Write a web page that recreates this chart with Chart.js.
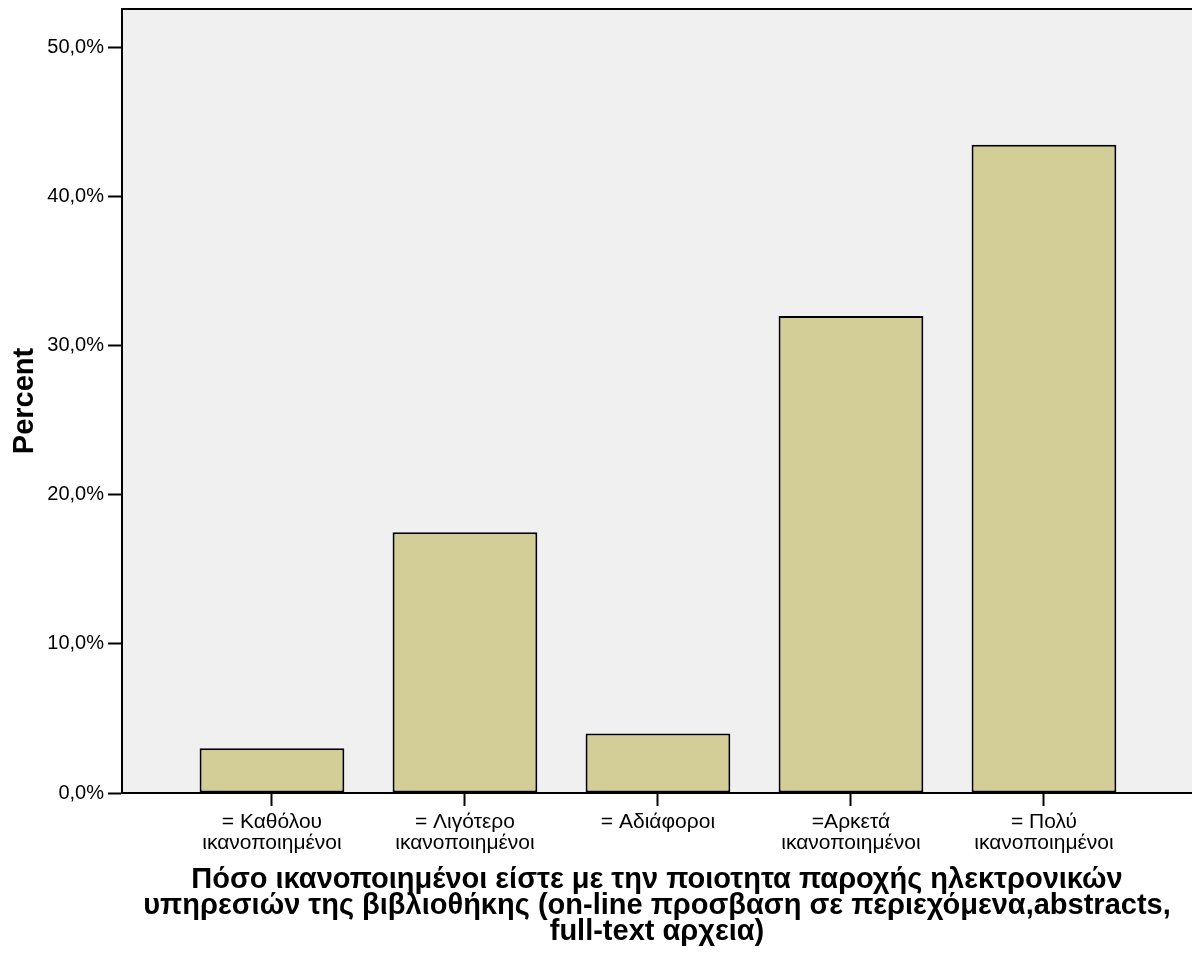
<!DOCTYPE html>
<html>
<head>
<meta charset="utf-8">
<script src="https://cdn.jsdelivr.net/npm/chart.js@4/dist/chart.umd.min.js"></script>
<style>
  html, body { margin: 0; padding: 0; background: #ffffff; }
  canvas { display: block; }
</style>
</head>
<body>
<canvas id="chart" width="1192" height="958"></canvas>
<script>
// Satisfaction with the library's electronic services (percent of respondents)
const categories = [
  ['= Καθόλου', 'ικανοποιημένοι'],
  ['= Λιγότερο', 'ικανοποιημένοι'],
  ['= Αδιάφοροι'],
  ['=Αρκετά', 'ικανοποιημένοι'],
  ['= Πολύ', 'ικανοποιημένοι']
];
const percentValues = [3.0, 17.5, 4.0, 32.0, 43.5];
const yTicks = [0, 10, 20, 30, 40, 50];
const xTitle = [
  'Πόσο ικανοποιημένοι είστε με την ποιοτητα παροχής ηλεκτρονικών',
  'υπηρεσιών της βιβλιοθήκης (on-line προσβαση σε περιεχόμενα,abstracts,',
  'full-text αρχεια)'
];
const yTitle = 'Percent';

const FONT = "'Liberation Sans', Arial, Helvetica, sans-serif";

// grey plot panel behind the bars, plus the top frame line
const panelPlugin = {
  id: 'panel',
  beforeDraw(chart) {
    const { ctx, chartArea: a } = chart;
    ctx.save();
    ctx.fillStyle = '#f0f0f0';
    ctx.fillRect(a.left, a.top, a.right - a.left, a.bottom - a.top);
    ctx.restore();
  },
  afterDraw(chart) {
    const { ctx, chartArea: a } = chart;
    ctx.save();
    ctx.strokeStyle = '#000000';
    ctx.lineWidth = 2;
    ctx.beginPath();
    ctx.moveTo(a.left, a.top);
    ctx.lineTo(a.right, a.top);
    ctx.stroke();
    ctx.restore();
  }
};

new Chart(document.getElementById('chart'), {
  type: 'bar',
  data: {
    datasets: [{
      data: percentValues.map((v, i) => ({ x: i, y: v })),
      backgroundColor: '#d3ce97',
      borderColor: '#000000',
      borderWidth: 2,
      borderSkipped: false,
      categoryPercentage: 1.0,
      barPercentage: 0.75
    }]
  },
  options: {
    responsive: false,
    animation: false,
    layout: { padding: { top: 9, right: 0, bottom: 0, left: 0 } },
    plugins: {
      legend: { display: false },
      tooltip: { enabled: false }
    },
    scales: {
      x: {
        type: 'linear',
        min: -0.777,
        max: 4.767,
        offset: false,
        afterBuildTicks(scale) {
          scale.ticks = categories.map((_, i) => ({ value: i }));
        },
        afterFit(scale) {
          scale.height = 165;
          scale.paddingLeft = 0;
          scale.paddingRight = 0;
        },
        ticks: {
          autoSkip: false,
          maxRotation: 0,
          minRotation: 0,
          padding: 6,
          color: '#000000',
          font: { family: FONT, size: 21, lineHeight: 1.0 },
          callback: (value) => categories[value] || ''
        },
        grid: {
          offset: false,
          drawOnChartArea: false,
          drawTicks: true,
          tickLength: 13,
          tickWidth: 2,
          color: '#000000'
        },
        border: { display: true, color: '#000000', width: 2 },
        title: {
          display: true,
          text: xTitle,
          color: '#000000',
          font: { family: FONT, size: 29, weight: 'bold', lineHeight: 0.9 },
          padding: { top: 0, bottom: 13 }
        }
      },
      y: {
        min: 0,
        max: 52.6,
        afterBuildTicks(scale) {
          scale.ticks = yTicks.map(v => ({ value: v }));
        },
        afterFit(scale) {
          scale.width = 122;
          scale.paddingTop = 0;
          scale.paddingBottom = 0;
        },
        ticks: {
          padding: 4,
          color: '#000000',
          font: { family: FONT, size: 20 },
          callback: (value) => value.toFixed(1).replace('.', ',') + '%'
        },
        grid: {
          drawOnChartArea: false,
          drawTicks: true,
          tickLength: 14,
          tickWidth: 2,
          color: '#000000'
        },
        border: { display: true, color: '#000000', width: 2 },
        title: {
          display: true,
          text: yTitle,
          color: '#000000',
          font: { family: FONT, size: 29, weight: 'bold', lineHeight: 1.2 },
          padding: { top: 8, bottom: 0 }
        }
      }
    }
  },
  plugins: [panelPlugin]
});
</script>
</body>
</html>
